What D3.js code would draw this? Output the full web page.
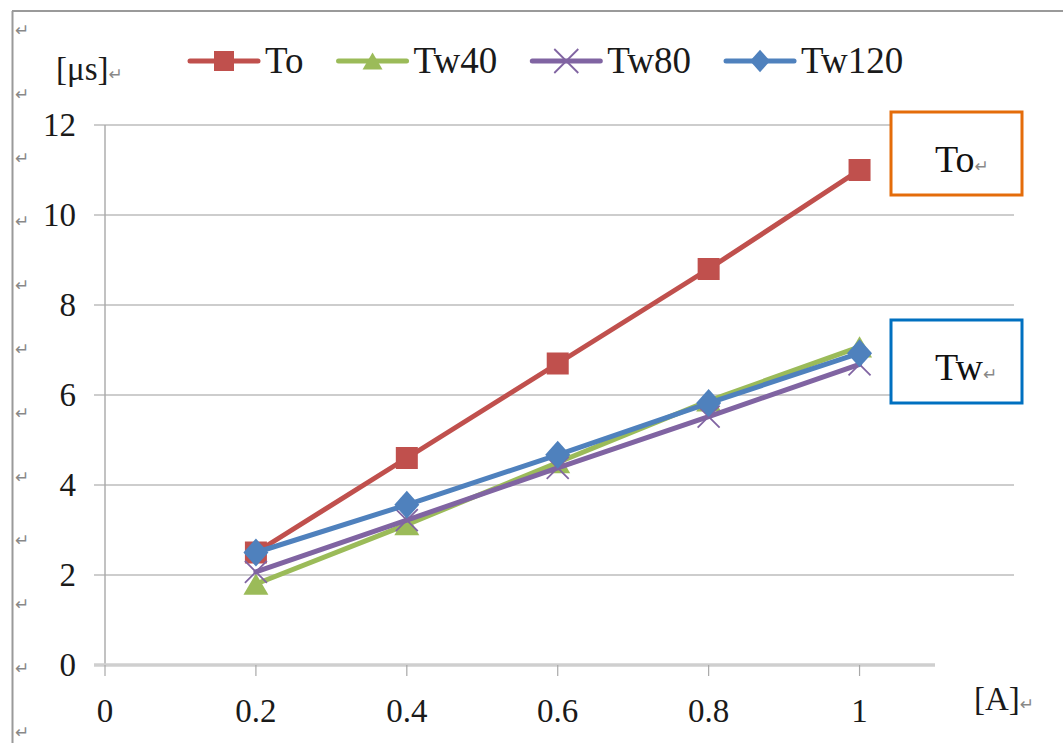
<!DOCTYPE html>
<html>
<head>
<meta charset="utf-8">
<script src="https://cdn.jsdelivr.net/npm/d3@7"></script>
<style>
  html, body { margin: 0; padding: 0; background: #fff; }
  svg { display: block; }
</style>
</head>
<body>
<svg id="chart" width="1063" height="743"></svg>
<script>
// Current [A] on the x axis, times [μs] on the y axis
const currents = [0.2, 0.4, 0.6, 0.8, 1.0];
const seriesNames = ["To", "Tw40", "Tw80", "Tw120"];
const toValues    = [2.5, 4.6, 6.7, 8.8, 11.0];
const tw40Values  = [1.8, 3.12, 4.5, 5.87, 7.07];
const tw80Values  = [2.07, 3.22, 4.38, 5.52, 6.68];
const tw120Values = [2.5, 3.56, 4.67, 5.82, 6.93];
const xTicks = [0, 0.2, 0.4, 0.6, 0.8, 1];
const yTicks = [0, 2, 4, 6, 8, 10, 12];
const xTickLabels = ["0", "0.2", "0.4", "0.6", "0.8", "1"];
const yTickLabels = ["0", "2", "4", "6", "8", "10", "12"];
const boxLabels = ["To", "Tw"];

const colors = ["#C0504D", "#9BBB59", "#8064A2", "#4F81BD"];
const symbols = ["square", "triangle", "cross", "diamond"];
const values = [toValues, tw40Values, tw80Values, tw120Values];

const svg = d3.select("#chart");
const serif = "'Liberation Serif', 'Times New Roman', serif";
const markFont = "DejaVu Sans";

const x = d3.scaleLinear().domain([0, 1.1]).range([105, 935]);
const y = d3.scaleLinear().domain([0, 12]).range([665, 125]);

// page frame with paragraph marks
svg.append("line").attr("x1", 12).attr("x2", 1063).attr("y1", 11).attr("y2", 11)
  .attr("stroke", "#9a9a9a").attr("stroke-width", 2);
svg.append("line").attr("x1", 12.5).attr("x2", 12.5).attr("y1", 11).attr("y2", 743)
  .attr("stroke", "#9a9a9a").attr("stroke-width", 2);
svg.append("g").selectAll("text").data(d3.range(12)).join("text")
  .attr("x", 15).attr("y", i => 36 + i * 63.8)
  .attr("font-family", markFont).attr("font-size", 17).attr("fill", "#888")
  .text("↵");

// gridlines
svg.append("g").selectAll("line").data(yTicks.filter(t => t > 0)).join("line")
  .attr("x1", 94).attr("x2", 1014)
  .attr("y1", d => y(d)).attr("y2", d => y(d))
  .attr("stroke", "#bdbdbd").attr("stroke-width", 1.6);

// y axis
svg.append("line").attr("x1", x(0)).attr("x2", x(0)).attr("y1", y(12)).attr("y2", y(0))
  .attr("stroke", "#a8a8a8").attr("stroke-width", 1.4);
// x axis
svg.append("line").attr("x1", 94).attr("x2", x(1.1)).attr("y1", y(0)).attr("y2", y(0))
  .attr("stroke", "#cfcfcf").attr("stroke-width", 3.5);
svg.append("g").selectAll("line").data(xTicks).join("line")
  .attr("x1", d => x(d)).attr("x2", d => x(d)).attr("y1", y(0)).attr("y2", y(0) + 11)
  .attr("stroke", "#a8a8a8").attr("stroke-width", 1.2);

// tick labels
svg.append("g").selectAll("text").data(yTicks).join("text")
  .attr("x", 76).attr("y", d => y(d) + 11)
  .attr("text-anchor", "end")
  .attr("font-family", serif).attr("font-size", 33).attr("fill", "#1a1a1a")
  .text((d, i) => yTickLabels[i]);
svg.append("g").selectAll("text").data(xTicks).join("text")
  .attr("x", d => x(d)).attr("y", 722)
  .attr("text-anchor", "middle")
  .attr("font-family", serif).attr("font-size", 33).attr("fill", "#1a1a1a")
  .text((d, i) => xTickLabels[i]);

// unit labels
const unitY = svg.append("text").attr("x", 56).attr("y", 80)
  .attr("font-family", serif).attr("font-size", 33).attr("fill", "#1a1a1a");
unitY.append("tspan").text("[μs]");
unitY.append("tspan").attr("font-family", markFont).attr("font-size", 17).attr("fill", "#888").text("↵");
const unitX = svg.append("text").attr("x", 974).attr("y", 710)
  .attr("font-family", serif).attr("font-size", 33).attr("fill", "#1a1a1a");
unitX.append("tspan").text("[A]");
unitX.append("tspan").attr("font-family", markFont).attr("font-size", 17).attr("fill", "#888").text("↵");

// marker drawing
function marker(g, type, color, cx, cy, s) {
  if (type === "square") {
    g.append("rect").attr("x", cx - s / 2).attr("y", cy - s / 2).attr("width", s).attr("height", s)
      .attr("fill", color);
  } else if (type === "triangle") {
    const h = s * 0.85;
    g.append("path").attr("d", `M${cx},${cy - h / 2}L${cx + s / 2},${cy + h / 2}L${cx - s / 2},${cy + h / 2}Z`)
      .attr("fill", color);
  } else if (type === "diamond") {
    const w = s / 2, h = s * 0.56;
    g.append("path").attr("d", `M${cx},${cy - h}L${cx + w},${cy}L${cx},${cy + h}L${cx - w},${cy}Z`)
      .attr("fill", color);
  } else if (type === "cross") {
    const r = s / 2;
    g.append("path").attr("d", `M${cx - r},${cy - r}L${cx + r},${cy + r}M${cx - r},${cy + r}L${cx + r},${cy - r}`)
      .attr("stroke", color).attr("stroke-width", 1.8).attr("fill", "none");
  }
}
const markerSize = [22, 25, 22, 25];

// series
const line = d3.line().x(d => x(d[0])).y(d => y(d[1]));
values.forEach((vals, si) => {
  const g = svg.append("g");
  const pts = currents.map((c, i) => [c, vals[i]]);
  g.append("path").datum(pts).attr("d", line)
    .attr("fill", "none").attr("stroke", colors[si]).attr("stroke-width", 5)
    .attr("stroke-linejoin", "round").attr("stroke-linecap", "round");
  pts.forEach(p => marker(g, symbols[si], colors[si], x(p[0]), y(p[1]), markerSize[si]));
});

// legend
const legend = svg.append("g");
let lx = 190;
seriesNames.forEach((name, si) => {
  const g = legend.append("g");
  g.append("line").attr("x1", lx).attr("x2", lx + 68).attr("y1", 61).attr("y2", 61)
    .attr("stroke", colors[si]).attr("stroke-width", 5).attr("stroke-linecap", "round");
  marker(g, symbols[si], colors[si], lx + 34, 61, si === 2 ? 24 : 20);
  const t = g.append("text").attr("x", lx + 75).attr("y", 73)
    .attr("font-family", serif).attr("font-size", 37).attr("fill", "#1a1a1a").text(name);
  lx = lx + 75 + t.node().getComputedTextLength() + 35;
});

// annotation boxes
const boxes = [
  { label: boxLabels[0], top: 112, color: "#E46C0A" },
  { label: boxLabels[1], top: 320, color: "#0070C0" }
];
boxes.forEach(b => {
  svg.append("rect").attr("x", 891).attr("y", b.top).attr("width", 131).attr("height", 83)
    .attr("fill", "#fff").attr("stroke", b.color).attr("stroke-width", 3);
  const t = svg.append("text").attr("x", 935).attr("y", b.top + 60)
    .attr("font-family", serif).attr("font-size", 38).attr("fill", "#111");
  t.append("tspan").text(b.label);
  t.append("tspan").attr("font-family", markFont).attr("font-size", 17).attr("fill", "#888").text("↵");
});
</script>
</body>
</html>
